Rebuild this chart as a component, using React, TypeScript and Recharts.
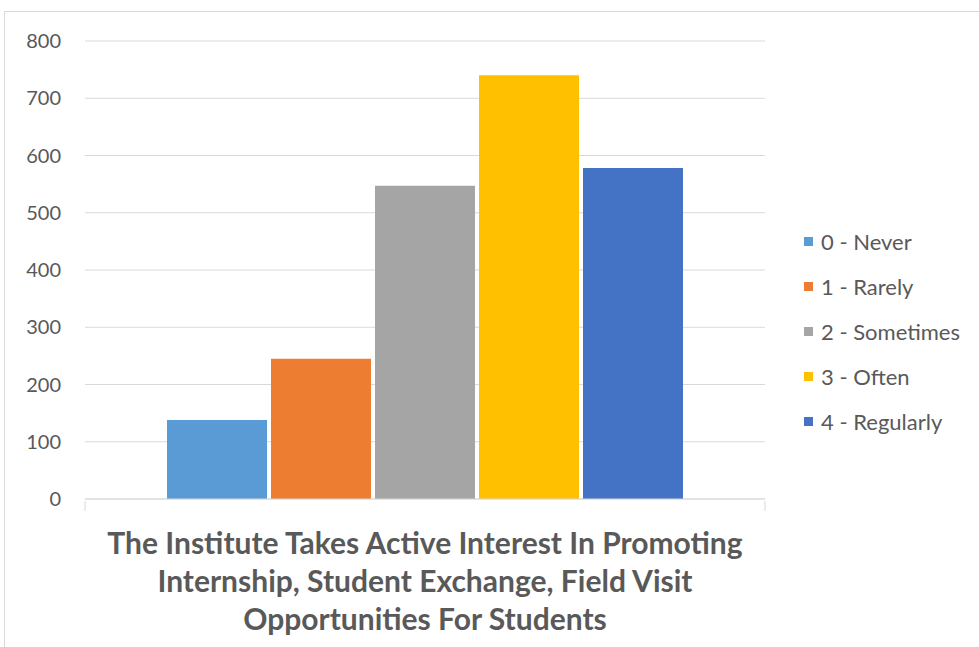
import React from 'react';
import { BarChart, Bar, XAxis, YAxis, CartesianGrid } from 'recharts';

const seriesNames = ['0 - Never', '1 - Rarely', '2 - Sometimes', '3 - Often', '4 - Regularly'];
const seriesValues = [138, 245, 547, 740, 578];
const seriesColors = ['#5B9BD5', '#ED7D31', '#A5A5A5', '#FFC000', '#4472C4'];
const categoryLines = [
  'The Institute Takes Active Interest In Promoting',
  'Internship, Student Exchange, Field Visit',
  'Opportunities For Students',
];
const yTicks = [0, 100, 200, 300, 400, 500, 600, 700, 800];

const row: Record<string, string | number> = { name: categoryLines.join(' ') };
seriesNames.forEach((s, i) => {
  row[s] = seriesValues[i];
});
const data = [row];

const FONT = 'Lato, "Open Sans", sans-serif';
const TEXT = '#595959';
const GRID = '#d9d9d9';

function CategoryTick(props: any) {
  const { x, y, width } = props;
  const left = x - width / 2;
  const right = x + width / 2;
  return (
    <g>
      <line x1={left} y1={y} x2={left} y2={y + 10} stroke={GRID} strokeWidth={1} />
      <line x1={right} y1={y} x2={right} y2={y + 10} stroke={GRID} strokeWidth={1} />
      {categoryLines.map((line, i) => (
        <text
          key={i}
          x={x}
          y={y + 53 + i * 38}
          textAnchor="middle"
          fill={TEXT}
          fontFamily={FONT}
          fontWeight={700}
          fontSize={30}
        >
          {line}
        </text>
      ))}
    </g>
  );
}

function LegendBox() {
  return (
    <div style={{ position: 'absolute', left: 804, top: 219, fontFamily: FONT }}>
      {seriesNames.map((s, i) => (
        <div key={s} style={{ display: 'flex', alignItems: 'center', height: 45 }}>
          <span
            style={{
              width: 9,
              height: 9,
              background: seriesColors[i],
              display: 'inline-block',
              marginRight: 8,
            }}
          />
          <span style={{ fontSize: 22, color: TEXT }}>{s}</span>
        </div>
      ))}
    </div>
  );
}

export default function App() {
  return (
    <div style={{ position: 'absolute', left: 0, top: 0, width: 979, height: 647, background: '#fff', overflow: 'hidden' }}>
      <div
        style={{
          position: 'absolute',
          left: 4,
          top: 11,
          width: 1000,
          height: 700,
          border: `1px solid ${GRID}`,
        }}
      />
      <div style={{ position: 'absolute', left: 0, top: 0 }}>
        <BarChart
          width={979}
          height={647}
          data={data}
          margin={{ top: 41, right: 214, bottom: 0, left: 0 }}
          barCategoryGap={82}
          barGap={4}
        >
          <CartesianGrid vertical={false} stroke={GRID} strokeWidth={1} />
          <XAxis
            dataKey="name"
            axisLine={{ stroke: GRID }}
            tickLine={false}
            tickSize={0}
            tick={<CategoryTick />}
            interval={0}
            height={148}
          />
          <YAxis
            domain={[0, 800]}
            ticks={yTicks}
            axisLine={false}
            tickLine={false}
            tickSize={0}
            tickMargin={24}
            width={85}
            tick={{ fill: TEXT, fontSize: 20, fontFamily: FONT }}
          />
          {seriesNames.map((s, i) => (
            <Bar key={s} dataKey={s} fill={seriesColors[i]} isAnimationActive={false} />
          ))}
        </BarChart>
      </div>
      <LegendBox />
    </div>
  );
}
